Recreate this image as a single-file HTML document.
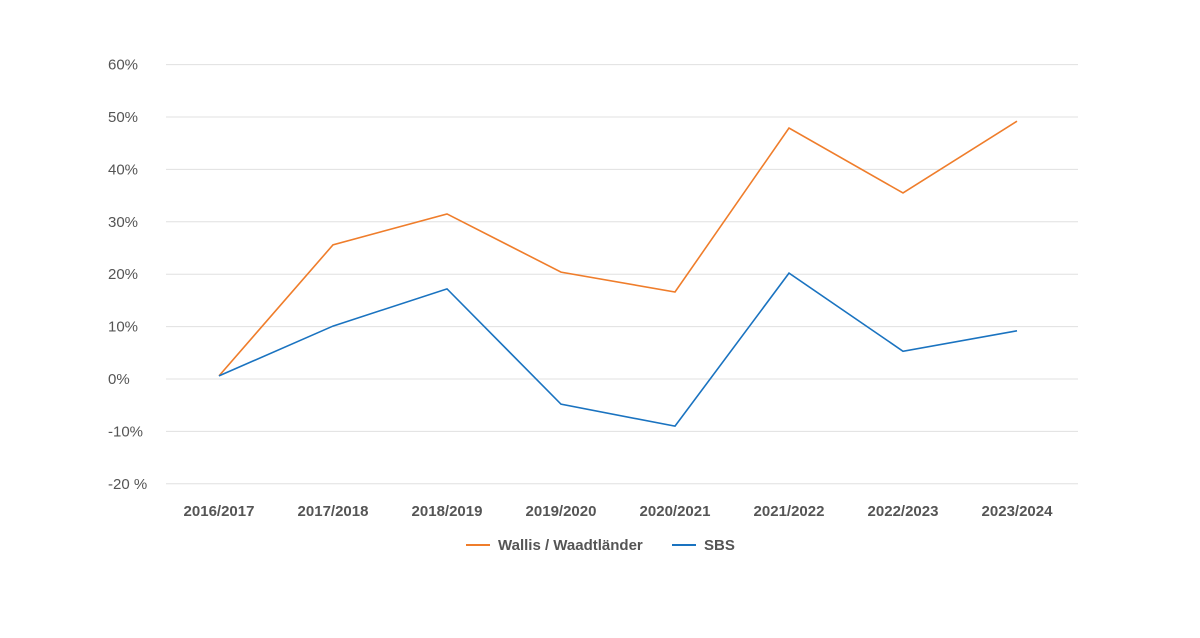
<!DOCTYPE html>
<html><head><meta charset="utf-8"><style>
body{margin:0;background:#fff;width:1200px;height:633px;overflow:hidden;font-family:"Liberation Sans",sans-serif}
</style></head><body>
<svg id="chart" width="1200" height="633" xmlns="http://www.w3.org/2000/svg"></svg>
<script>
const categories=["2016/2017","2017/2018","2018/2019","2019/2020","2020/2021","2021/2022","2022/2023","2023/2024"];
const wallisValues=[0.6,25.6,31.5,20.4,16.6,47.9,35.5,49.2];
const sbsValues=[0.6,10.1,17.2,-4.8,-9.0,20.2,5.3,9.2];
const yTicks=[60,50,40,30,20,10,0,-10,-20];
const yTickLabels=["60%","50%","40%","30%","20%","10%","0%","-10%","-20 %"];
const NS="http://www.w3.org/2000/svg";
const svg=document.getElementById('chart');
const plotL=166,plotR=1078,x0=162,band=114;
const y=v=>379-v*5.24;
const x=i=>x0+band*i+band/2;
function mk(t,a,txt){const e=document.createElementNS(NS,t);for(const k in a)e.setAttribute(k,a[k]);if(txt!==undefined)e.textContent=txt;svg.appendChild(e);return e;}
yTicks.forEach((t,i)=>{
 const g=mk('line',{x1:plotL,x2:plotR,y1:y(t),y2:y(t),stroke:'#e0e0e0','stroke-width':1});
 
 const l=mk('text',{x:108,y:y(t)+5,'font-size':15,fill:'#555'},yTickLabels[i]);
 
});
categories.forEach((c,i)=>{
 const l=mk('text',{x:x(i),y:516,'font-size':15,'font-weight':'bold',fill:'#555','text-anchor':'middle'},c);
 
});
function series(vals,color,name){
 const p=mk('polyline',{points:vals.map((v,i)=>x(i)+','+y(v)).join(' '),fill:'none',stroke:color,'stroke-width':1.6});
 
}
series(wallisValues,'#ef7d2b','wallis-line');
series(sbsValues,'#1a73c0','sbs-line');
let e;
e=mk('line',{x1:466,x2:490,y1:545,y2:545,stroke:'#ef7d2b','stroke-width':2});

e=mk('text',{x:498,y:550,'font-size':15,'font-weight':'bold',fill:'#555'},'Wallis / Waadtländer');

e=mk('line',{x1:672,x2:696,y1:545,y2:545,stroke:'#1a73c0','stroke-width':2});

e=mk('text',{x:704,y:550,'font-size':15,'font-weight':'bold',fill:'#555'},'SBS');

</script>
</body></html>
